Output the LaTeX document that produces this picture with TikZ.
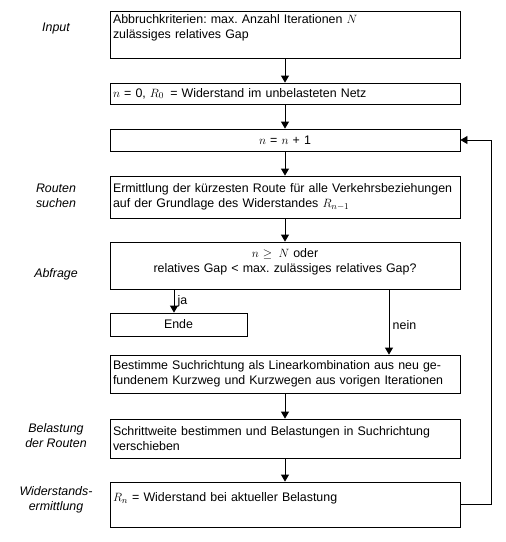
\documentclass[tikz,border=0pt]{standalone}
\usepackage{fontspec}
\setmainfont{Liberation Sans}
\usetikzlibrary{arrows.meta}
\frenchspacing

\begin{document}
\begin{tikzpicture}[x=1pt, y=-1pt,
    box/.style={draw, line width=0.8pt, minimum width=350pt, text width=344pt,
      inner xsep=3pt, inner ysep=0pt, align=left, font=\fontsize{12.4}{15}\selectfont},
    cbox/.style={box, align=center},
    side/.style={align=center, font=\fontsize{12.4}{15}\selectfont\itshape},
    arr/.style={line width=0.8pt, -{Triangle[width=8pt,length=7pt]}}]
  \useasboundingbox (0,0) rectangle (506,542);

  \node[box, minimum height=47pt] (in) at (285,34.5)
    {Abbruchkriterien: max. Anzahl Iterationen $N$\\zulässiges relatives Gap\\\mbox{}};
  \node[box, minimum height=21pt] (init) at (285,93.5)
    {$n$ = 0, $R_0$\, = Widerstand im unbelasteten Netz};
  \node[cbox, minimum height=22pt] (inc) at (285,140) {$n$ = $n$ + 1};
  \node[box, minimum height=42pt] (route) at (285,197)
    {Ermittlung der kürzesten Route für alle Verkehrsbeziehungen\\auf der Grundlage des Widerstandes $R_{n-1}$};
  \node[cbox, minimum height=47pt] (query) at (285,265.5)
    {$n$ $\geq$\, $N$ oder\\relatives Gap < max. zulässiges relatives Gap?\rule[-10pt]{0pt}{10pt}};
  \node[cbox, minimum width=137pt, text width=131pt, minimum height=23pt] (ende) at (178.5,324.5) {Ende};
  \node[box, minimum height=38pt] (dir) at (285,374)
    {Bestimme Suchrichtung als Linearkombination aus neu ge-\\fundenem Kurzweg und Kurzwegen aus vorigen Iterationen};
  \node[box, minimum height=39pt] (load) at (285,438.5)
    {Schrittweite bestimmen und Belastungen in Suchrichtung\\verschieben};
  \node[box, minimum height=45pt] (res) at (285,504.5)
    {$R_n$ = Widerstand bei aktueller Belastung\\\mbox{}};

  % Beschriftung links
  \node[side] (lin) at (56,29) {Input};
  \node[side] (lroute) at (56,195.5) {Routen\\suchen};
  \node[side] (lquery) at (56,274) {Abfrage};
  \node[side] (lload) at (56,435.5) {Belastung\\der Routen};
  \node[side] (lres) at (56,499.5) {Widerstands-\\ermittlung};

  \draw[arr] (in) -- (init);
  \draw[arr] (init) -- (inc);
  \draw[arr] (inc) -- (route);
  \draw[arr] (route) -- (query);
  \draw[arr] ([xshift=-4.5pt]ende.north |- query.south) -- node[right, font=\fontsize{12.4}{15}\selectfont] {ja} ([xshift=-4.5pt]ende.north);
  \draw[arr] ([xshift=104pt]query.south) -- node[pos=0.54, right, font=\fontsize{12.4}{15}\selectfont] {nein} ([xshift=104pt]dir.north);
  \draw[arr] (dir) -- (load);
  \draw[arr] (load) -- (res);
  \coordinate (back) at (491,504.5);
  \draw[arr] (res.east) -- (back) |- (inc.east);
\end{tikzpicture}
\end{document}
